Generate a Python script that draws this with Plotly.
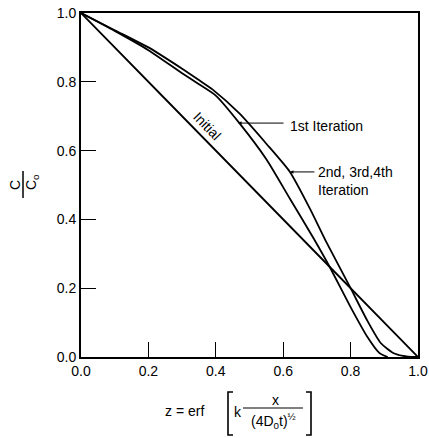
import plotly.graph_objects as go

# ---- data ----
initial_z = [0.0, 0.25, 0.5, 0.75, 1.0]
initial_c = [1.0, 0.75, 0.5, 0.25, 0.0]

first_z = [0.0, 0.1, 0.2, 0.3, 0.35, 0.4, 0.47, 0.55, 0.62, 0.69, 0.74, 0.8, 0.85, 0.885, 0.91]
first_c = [1.0, 0.948, 0.892, 0.825, 0.793, 0.76, 0.68, 0.575, 0.46, 0.345, 0.258, 0.145, 0.058, 0.012, 0.0]

later_z = [0.0, 0.1, 0.2, 0.3, 0.35, 0.39, 0.47, 0.55, 0.62, 0.68, 0.725, 0.8, 0.85, 0.89, 0.93, 0.97, 1.0]
later_c = [1.0, 0.95, 0.9, 0.838, 0.805, 0.778, 0.708, 0.62, 0.538, 0.43, 0.34, 0.2, 0.105, 0.04, 0.01, 0.001, 0.0]

tick_vals = [0.0, 0.2, 0.4, 0.6, 0.8, 1.0]
tick_text = ["0.0", "0.2", "0.4", "0.6", "0.8", "1.0"]

FONT = "Liberation Sans"
W, H = 429, 438
L, R, T, B = 81, 11, 13, 81
PW, PH = W - L - R, H - T - B


def px(xp):
    return (xp - L) / PW


def py(yp):
    return (H - B - yp) / PH


fig = go.Figure()
line = dict(color="black", width=1.8)
for zs, cs, name in [(initial_z, initial_c, "Initial"),
                     (first_z, first_c, "1st Iteration"),
                     (later_z, later_c, "2nd, 3rd, 4th Iteration")]:
    fig.add_trace(go.Scatter(x=zs, y=cs, mode="lines", name=name,
                             line=dict(**line, shape="spline", smoothing=0.6),
                             showlegend=False, hoverinfo="skip"))

axis_common = dict(range=[0, 1], tickvals=tick_vals, ticktext=tick_text,
                   ticks="inside", ticklen=15, tickwidth=1, tickcolor="black",
                   showline=True, linecolor="black", linewidth=2, mirror=True,
                   showgrid=False, zeroline=False, automargin=False,
                   tickfont=dict(family=FONT, size=14, color="black"))

fig.update_layout(
    width=W, height=H,
    margin=dict(l=L, r=R, t=T, b=B),
    paper_bgcolor="white", plot_bgcolor="white",
    xaxis=dict(**axis_common),
    yaxis=dict(**axis_common),
    font=dict(family=FONT, color="black"),
)


def label(xp, yp, text, size=14, angle=0, xanchor="center", align="center"):
    return dict(x=px(xp), y=py(yp), xref="paper", yref="paper", text=text,
                textangle=angle, showarrow=False, xanchor=xanchor,
                yanchor="middle", align=align,
                font=dict(family=FONT, size=size, color="black"))


ann = []
# Initial label
ann.append(dict(x=0.375, y=0.672, xref="x", yref="y", text="Initial",
                textangle=46, showarrow=False, xanchor="center", yanchor="middle",
                font=dict(family=FONT, size=14, color="black")))
# 1st iteration arrow + label
ann.append(dict(x=0.466, y=0.68, xref="x", yref="y", text="",
                showarrow=True, ax=47, ay=0, arrowhead=2, arrowsize=0.7,
                arrowwidth=1, arrowcolor="black"))
ann.append(label(288, 126, "1st Iteration", xanchor="left"))
# 2nd,3rd,4th iteration arrow + label
ann.append(dict(x=0.62, y=0.538, xref="x", yref="y", text="",
                showarrow=True, ax=26, ay=0, arrowhead=2, arrowsize=0.7,
                arrowwidth=1, arrowcolor="black"))
ann.append(label(316, 181, "2nd, 3rd,4th<br>Iteration", xanchor="left", align="left"))
# y-axis label C / C0 (rotated fraction)
ann.append(label(15, 185, "C", angle=-90))
ann.append(label(32, 182, "C<sub>o</sub>", angle=-90))
# x-axis label z = erf [ k x / (4D0 t)^1/2 ]
ann.append(label(184, 411, "z = erf"))
ann.append(label(238, 412, "k"))
ann.append(label(275, 400, "x"))
ann.append(label(273, 421, "(4D<sub>0</sub>t)<sup>½</sup>"))
fig.update_layout(annotations=ann)

shapes = []
# fraction bar for y label
shapes.append(dict(type="line", xref="paper", yref="paper",
                   x0=px(23), x1=px(23), y0=py(171), y1=py(198),
                   line=dict(color="black", width=1.5)))
# fraction bar in x label
shapes.append(dict(type="line", xref="paper", yref="paper",
                   x0=px(243), x1=px(303), y0=py(408), y1=py(408),
                   line=dict(color="black", width=1.2)))
# brackets
for xa, xb in [(233, 228), (306, 311)]:
    shapes.append(dict(type="path", xref="paper", yref="paper",
                       path=f"M {px(xa)} {py(392)} L {px(xb)} {py(392)} L {px(xb)} {py(435)} L {px(xa)} {py(435)}",
                       line=dict(color="black", width=1.6)))
fig.update_layout(shapes=shapes)

post = ("document.documentElement.style.overflow='hidden';"
        "document.body.style.margin='0';document.body.style.overflow='hidden';")
fig.write_html("out.html", post_script=post)
